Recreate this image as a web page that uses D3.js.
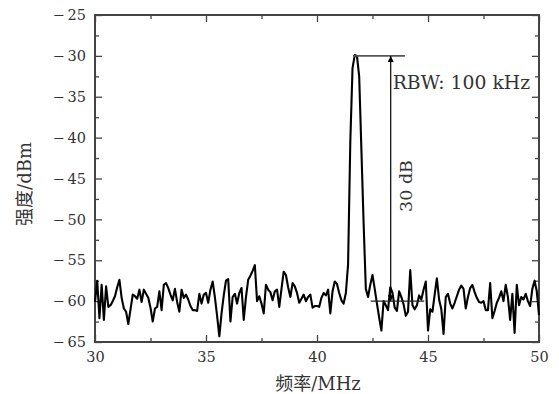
<!DOCTYPE html>
<html>
<head>
<meta charset="utf-8">
<script src="https://cdn.jsdelivr.net/npm/d3@7"></script>
<style>
  html, body { margin: 0; padding: 0; background: #fff; }
  svg { display: block; }
</style>
</head>
<body>
<div id="container"></div>
<script>
// spectrum samples, 30 MHz .. 50 MHz, one every 0.1 MHz
const freqStart = 30;
const freqStep = 0.1;
const power = [
  -60.1, -57.5, -62.1, -58.0, -62.3, -58.2, -60.7, -60.5, -60.0, -59.4,
  -58.3, -57.4, -59.6, -60.9, -61.3, -62.8, -61.0, -59.2, -59.4, -59.7,
  -58.6, -60.1, -58.6, -59.1, -59.6, -60.8, -62.5, -60.9, -60.7, -58.8,
  -61.1, -58.0, -57.8, -58.4, -59.2, -59.9, -58.5, -60.1, -61.3, -58.6,
  -59.6, -59.2, -59.8, -60.6, -61.1, -61.1, -61.2, -59.1, -60.3, -59.2,
  -59.0, -60.2, -58.6, -57.6, -59.5, -61.8, -64.3, -61.5, -59.3, -57.5,
  -57.3, -62.5, -59.5, -59.1, -60.3, -59.0, -58.4, -62.3, -59.5, -57.4,
  -56.9, -56.3, -55.6, -60.0, -59.4, -60.3, -61.5, -58.0, -58.6, -58.9,
  -59.9, -58.8, -58.6, -60.7, -58.5, -56.4, -56.8, -58.3, -59.5, -57.8,
  -58.2, -59.0, -60.2, -59.7, -59.2, -60.0, -59.5, -59.2, -60.8, -60.6,
  -60.6, -60.7, -59.6, -59.0, -59.3, -58.6, -61.5, -58.8, -57.6, -57.9,
  -59.0, -59.9, -60.3, -59.0, -55.5, -40.5, -31.5, -29.9, -30.0, -32.5,
  -41.5, -50.5, -58.5, -59.5, -58.0, -56.8, -58.5, -60.3, -62.0, -63.6,
  -60.0, -60.5, -61.1, -58.3, -59.0, -60.8, -61.2, -58.8, -59.5, -60.4,
  -61.8, -61.3, -56.2, -60.5, -61.0, -60.5, -59.3, -59.8, -58.6, -57.6,
  -63.6, -61.0, -61.3, -59.2, -57.2, -59.8, -61.0, -64.0, -59.5, -59.1,
  -60.3, -60.9, -60.2, -59.4, -58.6, -58.1, -58.5, -60.9, -59.5, -58.4,
  -58.0, -58.9, -59.6, -60.1, -60.2, -60.0, -61.1, -61.1, -57.8, -62.1,
  -61.2, -60.2, -59.6, -58.8, -60.0, -58.0, -59.5, -62.3, -59.1, -63.9,
  -58.0, -60.5, -59.5, -59.8, -59.1, -60.0, -60.6, -58.5, -57.5, -58.8,
  -61.7
];

const xTicks = [30, 35, 40, 45, 50];
const yTicks = [-65, -60, -55, -50, -45, -40, -35, -30, -25];

// annotation: peak level line, noise level line, 30 dB arrow
const peakLine = [41.62, 43.96, -30];
const floorLine = [42.42, 44.83, -60];
const arrowAt = 43.32;
const rbwLabel = "RBW: 100 kHz";
const rangeLabel = "30 dB";

const width = 559, height = 394;
const margin = {top: 15, right: 20, bottom: 52, left: 95};

const svg = d3.select("#container")
    .append("svg")
    .attr("width", width)
    .attr("height", height);

const x = d3.scaleLinear().domain([30, 50]).range([margin.left, width - margin.right]);
const y = d3.scaleLinear().domain([-65, -25]).range([height - margin.bottom, margin.top]);

const points = power.map((v, i) => ({f: freqStart + i * freqStep, v}));

const serif = "'DejaVu Serif', 'Liberation Serif', 'Noto Sans CJK SC', serif";
const minus = d => (d < 0 ? "\u2212\u2009" : "") + Math.abs(d);

// axes, ticks point inward on all four sides
const axisColor = "#444";
const minorX = d3.range(32.5, 50, 5);
const minorY = d3.range(-62.5, -25, 5);

function styleAxis(g) {
    g.select(".domain").remove();
    g.selectAll("line").attr("stroke", axisColor).attr("stroke-width", 1.3);
    g.selectAll("text").attr("fill", "#333").attr("font-family", serif).attr("font-size", 14.5);
}

svg.append("g")
    .attr("transform", `translate(0,${y(-65)})`)
    .call(d3.axisBottom(x).tickValues(xTicks).tickSize(-7).tickPadding(10).tickFormat(d => d))
    .call(styleAxis);
svg.append("g")
    .attr("transform", `translate(0,${y(-65)})`)
    .call(d3.axisBottom(x).tickValues(minorX).tickSize(-4).tickFormat(""))
    .call(styleAxis);
svg.append("g")
    .attr("transform", `translate(0,${y(-25)})`)
    .call(d3.axisTop(x).tickValues(xTicks).tickSize(-7).tickFormat(""))
    .call(styleAxis);
svg.append("g")
    .attr("transform", `translate(0,${y(-25)})`)
    .call(d3.axisTop(x).tickValues(minorX).tickSize(-4).tickFormat(""))
    .call(styleAxis);
svg.append("g")
    .attr("transform", `translate(${x(30)},0)`)
    .call(d3.axisLeft(y).tickValues(yTicks).tickSize(-7).tickPadding(9).tickFormat(minus))
    .call(styleAxis);
svg.append("g")
    .attr("transform", `translate(${x(30)},0)`)
    .call(d3.axisLeft(y).tickValues(minorY).tickSize(-4).tickFormat(""))
    .call(styleAxis);
svg.append("g")
    .attr("transform", `translate(${x(50)},0)`)
    .call(d3.axisRight(y).tickValues(yTicks).tickSize(-7).tickFormat(""))
    .call(styleAxis);
svg.append("g")
    .attr("transform", `translate(${x(50)},0)`)
    .call(d3.axisRight(y).tickValues(minorY).tickSize(-4).tickFormat(""))
    .call(styleAxis);

// frame
svg.append("rect")
    .attr("x", x(30)).attr("y", y(-25))
    .attr("width", x(50) - x(30)).attr("height", y(-65) - y(-25))
    .attr("fill", "none").attr("stroke", axisColor).attr("stroke-width", 2);

// spectrum trace
const line = d3.line().x(d => x(d.f)).y(d => y(d.v));
svg.append("path")
    .datum(points)
    .attr("d", line)
    .attr("fill", "none")
    .attr("stroke", "#000")
    .attr("stroke-width", 2.1)
    .attr("stroke-linejoin", "round");

// annotation
const defs = svg.append("defs");
defs.append("marker")
    .attr("id", "head")
    .attr("viewBox", "0 0 10 10")
    .attr("refX", 10).attr("refY", 5)
    .attr("markerWidth", 7).attr("markerHeight", 6)
    .attr("markerUnits", "userSpaceOnUse")
    .attr("orient", "auto-start-reverse")
    .append("path")
    .attr("d", "M0,0 L10,5 L0,10 z")
    .attr("fill", "#000");

svg.append("line")
    .attr("x1", x(peakLine[0])).attr("x2", x(peakLine[1]))
    .attr("y1", y(peakLine[2])).attr("y2", y(peakLine[2]))
    .attr("stroke", "#555").attr("stroke-width", 1.6);
svg.append("line")
    .attr("x1", x(floorLine[0])).attr("x2", x(floorLine[1]))
    .attr("y1", y(floorLine[2])).attr("y2", y(floorLine[2]))
    .attr("stroke", "#222").attr("stroke-width", 1.2);
svg.append("line")
    .attr("x1", x(arrowAt)).attr("x2", x(arrowAt))
    .attr("y1", y(floorLine[2])).attr("y2", y(peakLine[2]))
    .attr("stroke", "#000").attr("stroke-width", 1.2)
    .attr("marker-start", "url(#head)")
    .attr("marker-end", "url(#head)");

svg.append("text")
    .attr("x", x(arrowAt) + 2).attr("y", 89)
    .attr("font-family", serif).attr("font-size", 18.8).attr("fill", "#333")
    .text(rbwLabel);
svg.append("text")
    .attr("transform", `translate(${x(arrowAt) + 21},${186}) rotate(-90)`)
    .attr("text-anchor", "middle")
    .attr("font-family", serif).attr("font-size", 17.5).attr("fill", "#333")
    .text(rangeLabel);

// axis titles
const xTitle = svg.append("text")
    .attr("x", (x(30) + x(50)) / 2 + 1).attr("y", 390)
    .attr("text-anchor", "middle")
    .attr("font-family", serif).attr("font-size", 18).attr("fill", "#333");
xTitle.append("tspan").attr("font-family", "'Noto Sans CJK SC', sans-serif").text("频率");
xTitle.append("tspan").text("/MHz");

const yTitle = svg.append("text")
    .attr("transform", `translate(31,${184}) rotate(-90)`)
    .attr("text-anchor", "middle")
    .attr("font-family", serif).attr("font-size", 18).attr("fill", "#333");
yTitle.append("tspan").attr("font-family", "'Noto Sans CJK SC', sans-serif").text("强度");
yTitle.append("tspan").text("/dBm");
</script>
</body>
</html>
